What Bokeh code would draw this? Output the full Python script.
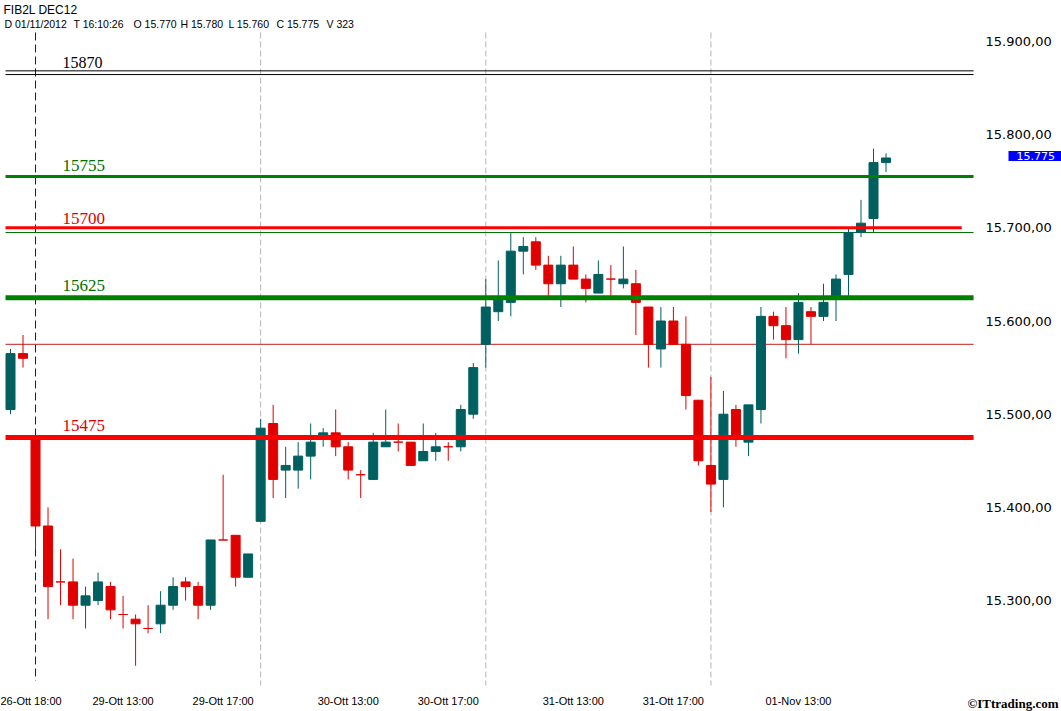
from bokeh.plotting import figure
from bokeh.models import Range1d, FixedTicker, Label
from bokeh.embed import file_html
from bokeh.resources import INLINE

# ---- data: 30-minute bars of FIB2L DEC12 (26-Ott 17:30 .. 01-Nov 16:30) ----
opens = [15505, 15565, 15475, 15380, 15320, 15320, 15295, 15300, 15315, 15285,
         15280, 15270, 15275, 15295, 15320, 15315, 15295, 15365, 15370, 15325,
         15385, 15490, 15440, 15440, 15455, 15475, 15480, 15465, 15435, 15430,
         15465, 15470, 15470, 15450, 15460, 15465, 15465, 15500, 15575, 15610,
         15620, 15675, 15685, 15660, 15640, 15660, 15645, 15630, 15645, 15640,
         15640, 15615, 15570, 15600, 15575, 15515, 15445, 15430, 15505, 15470,
         15505, 15605, 15595, 15580, 15610, 15605, 15625, 15650, 15695, 15710,
         15770]
highs = [15570, 15585, 15475, 15400, 15355, 15345, 15315, 15330, 15320, 15305,
         15285, 15295, 15310, 15325, 15325, 15320, 15365, 15435, 15370, 15350,
         15495, 15510, 15465, 15470, 15490, 15485, 15505, 15470, 15440, 15480,
         15505, 15490, 15470, 15490, 15480, 15470, 15510, 15555, 15645, 15665,
         15695, 15690, 15690, 15670, 15670, 15680, 15650, 15665, 15660, 15680,
         15655, 15615, 15615, 15615, 15605, 15515, 15540, 15525, 15510, 15510,
         15615, 15610, 15615, 15630, 15615, 15640, 15650, 15700, 15730, 15785,
         15780]
lows = [15500, 15550, 15355, 15280, 15295, 15280, 15270, 15295, 15280, 15270,
        15230, 15265, 15265, 15290, 15300, 15280, 15290, 15365, 15315, 15325,
        15385, 15410, 15410, 15420, 15430, 15465, 15455, 15430, 15410, 15430,
        15465, 15460, 15445, 15450, 15450, 15450, 15460, 15495, 15550, 15600,
        15605, 15650, 15655, 15625, 15615, 15645, 15620, 15630, 15625, 15635,
        15585, 15550, 15550, 15575, 15505, 15445, 15395, 15400, 15465, 15455,
        15490, 15580, 15560, 15565, 15575, 15600, 15600, 15625, 15690, 15695,
        15760]
closes = [15565, 15560, 15380, 15315, 15320, 15295, 15305, 15320, 15290, 15285,
          15275, 15270, 15295, 15315, 15315, 15295, 15365, 15365, 15325, 15350,
          15485, 15430, 15445, 15455, 15470, 15480, 15465, 15440, 15435, 15470,
          15470, 15470, 15445, 15460, 15465, 15465, 15505, 15550, 15615, 15625,
          15675, 15680, 15660, 15640, 15660, 15645, 15635, 15650, 15645, 15645,
          15620, 15575, 15600, 15575, 15520, 15450, 15425, 15500, 15475, 15510,
          15605, 15595, 15580, 15620, 15605, 15620, 15645, 15695, 15705, 15770,
          15775]
bars = list(range(len(opens)))

x_tick_bars = [1, 9, 17, 27, 35, 45, 53, 63]
x_tick_labels = ["26-Ott 18:00", "29-Ott 13:00", "29-Ott 17:00", "30-Ott 13:00",
                 "30-Ott 17:00", "31-Ott 13:00", "31-Ott 17:00", "01-Nov 13:00"]
y_ticks = [15300, 15400, 15500, 15600, 15700, 15800, 15900]
y_tick_labels = ["15.300,00", "15.400,00", "15.500,00", "15.600,00",
                 "15.700,00", "15.800,00", "15.900,00"]
day_start_bars = [20, 38, 56]
cursor_bar = 2

level_values = [15755, 15700, 15625, 15475]
level_texts = ["15755", "15700", "15625", "15475"]
top_level = 15870
thin_levels = [15695, 15575]
last_price = 15775
last_price_text = "15.775"
header_title = "FIB2L DEC12"
header_fields = ["D 01/11/2012", "T 16:10:26", "O 15.770", "H 15.780",
                 "L 15.760", "C 15.775", "V 323"]
copyright_text = "\u00a9ITtrading.com"

# ---- layout / style ----
W, H = 1061, 711
X_START, X_END = -0.8, 84.03          # whole canvas in bar units
Y_START, Y_END = 15180.9, 15944.0     # whole canvas in price units
CHART_RIGHT = 77.4                    # price-axis position (bar units)
CHART_BOTTOM = 15208.8                # time-axis position (price units)
CHART_TOP = 15909.7
LINE_START = -0.4

UP = "#005f5f"
DOWN = "#e00000"
GREEN = "#008000"
RED = "#ff0000"
level_colors = [GREEN, RED, GREEN, RED]
level_text_colors = ["#007000", "#e00000", "#007000", "#e00000"]
level_widths = [3, 3, 5, 5]
level_label_offsets = [6, 4, 7, 6]
level_ends = [77.0, 76.05, 77.0, 77.0]
thin_colors = ["#007000", "#c02020"]

p = figure(width=W, height=H,
           x_range=Range1d(X_START, X_END), y_range=Range1d(Y_START, Y_END),
           output_backend="svg", toolbar_location=None,
           y_axis_location="right",
           min_border_left=0, min_border_right=0,
           min_border_top=0, min_border_bottom=0,
           outline_line_color=None, background_fill_color="white",
           border_fill_color="white")
p.xgrid.visible = False
p.ygrid.visible = False

for ax in (p.xaxis[0], p.yaxis[0]):
    ax.axis_line_color = None
    ax.major_tick_line_color = None
    ax.minor_tick_line_color = None
    ax.major_label_text_color = "black"

p.xaxis.fixed_location = CHART_BOTTOM
p.xaxis.ticker = FixedTicker(ticks=x_tick_bars)
p.xaxis.major_label_overrides = dict(zip(x_tick_bars, x_tick_labels))
p.xaxis.major_label_text_font = "Liberation Sans"
p.xaxis.major_label_text_font_size = "11px"
p.xaxis.major_label_standoff = 3

p.yaxis.fixed_location = CHART_RIGHT
p.yaxis.ticker = FixedTicker(ticks=y_ticks)
p.yaxis.major_label_overrides = dict(zip(y_ticks, y_tick_labels))
p.yaxis.major_label_text_font = "DejaVu Sans"
p.yaxis.major_label_text_font_size = "13px"
p.yaxis.major_label_standoff = 1

# vertical day separators and cursor
nd = len(day_start_bars)
p.segment(x0=day_start_bars, x1=day_start_bars, y0=[CHART_TOP] * nd,
          y1=[CHART_BOTTOM] * nd, line_color="#b4b4b4", line_dash="6 3",
          line_width=1)
p.segment(x0=[cursor_bar], x1=[cursor_bar], y0=[CHART_TOP], y1=[CHART_BOTTOM + 5],
          line_color="#0000ee", line_dash="8 4", line_width=1)

# top double black level
p.segment(x0=[LINE_START, LINE_START], x1=[77.0, 77.0],
          y0=[top_level - 1.5, top_level - 5.5], y1=[top_level - 1.5, top_level - 5.5],
          line_color="black", line_width=1)
p.add_layout(Label(x=62, x_units="screen", y=top_level, y_units="data", y_offset=1,
                   text=str(top_level), text_font="Liberation Serif",
                   text_font_size="16px", text_color="black",
                   text_baseline="bottom"))

# thin levels
p.segment(x0=[LINE_START] * len(thin_levels), x1=[77.0] * len(thin_levels),
          y0=thin_levels, y1=thin_levels, line_color=thin_colors, line_width=1)

# candles
colors = [UP if c > o else DOWN for o, c in zip(opens, closes)]
tops = [max(o, c) for o, c in zip(opens, closes)]
bottoms = [min(o, c) for o, c in zip(opens, closes)]
p.segment(x0=bars, x1=bars, y0=lows, y1=highs, line_color=colors, line_width=1)
p.vbar(x=bars, width=0.72, top=tops, bottom=bottoms, fill_color=colors,
       line_color=colors, line_width=1)

# thick levels
p.segment(x0=[LINE_START] * len(level_values), x1=level_ends,
          y0=level_values, y1=level_values, line_color=level_colors,
          line_width=level_widths)
for v, t, c, off in zip(level_values, level_texts, level_text_colors,
                        level_label_offsets):
    p.add_layout(Label(x=62, x_units="screen", y=v, y_units="data", y_offset=off,
                       text=t, text_font="Liberation Serif", text_font_size="17px",
                       text_color=c, text_baseline="bottom"))

# last price box on the axis
p.add_layout(Label(x=1008, x_units="screen", y=last_price, y_units="data",
                   y_offset=2, text=last_price_text,
                   text_font="DejaVu Sans", text_font_size="11px",
                   text_color="white", text_baseline="middle",
                   background_fill_color="#0000ff",
                   padding=dict(left=8, right=9, top=1, bottom=1)))

# header
p.add_layout(Label(x=3, x_units="screen", y=H - 2, y_units="screen",
                   text=header_title, text_font="Liberation Sans",
                   text_font_size="12px", text_color="black", text_baseline="top"))
field_x = [4, 73, 133, 180, 228, 276, 326]
for fx, ft in zip(field_x, header_fields):
    p.add_layout(Label(x=fx, x_units="screen", y=H - 17, y_units="screen",
                       text=ft, text_font="Liberation Sans", text_font_size="10.5px",
                       text_color="black", text_baseline="top"))

# copyright
p.add_layout(Label(x=1058, x_units="screen", y=1, y_units="screen",
                   text=copyright_text, text_font="Liberation Sans Narrow",
                   text_font_size="13px", text_font_style="bold",
                   text_color="black", text_align="right", text_baseline="bottom"))

open("out.html", "w").write(file_html(p, INLINE))
